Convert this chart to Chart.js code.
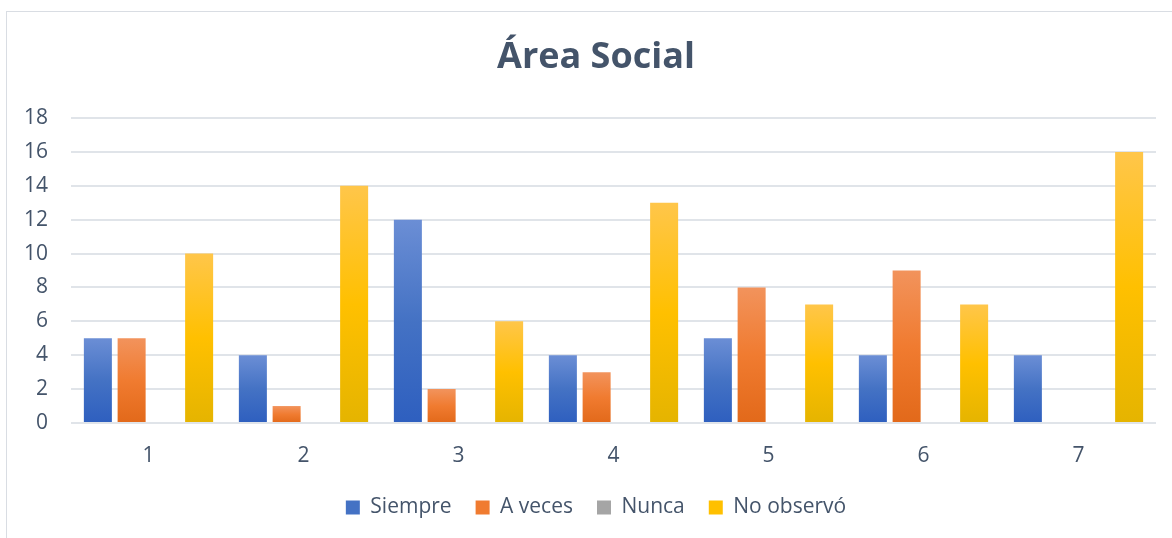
<!DOCTYPE html>
<html>
<head>
<meta charset="utf-8">
<script src="https://cdn.jsdelivr.net/npm/chart.js@4"></script>
<style>
  html, body { margin: 0; padding: 0; background: #fff; overflow: hidden; }
  #wrap { position: relative; width: 1172px; height: 538px; overflow: hidden; }
  #frame { position: absolute; left: 6px; top: 11px; width: 1300px; height: 700px; border: 1px solid #d9dde3; box-sizing: border-box; }
  canvas { position: absolute; left: 0; top: 0; }
</style>
</head>
<body>
<div id="wrap">
  <div id="frame"></div>
  <canvas id="chart" width="1192" height="538"></canvas>
</div>
<script>
// ===== Data =====
const categories = ["1", "2", "3", "4", "5", "6", "7"];
const siempre = [5, 4, 12, 4, 5, 4, 4];
const aVeces = [5, 1, 2, 3, 8, 9, 0];
const nunca = [0, 0, 0, 0, 0, 0, 0];
const noObservo = [10, 14, 6, 13, 7, 7, 16];
const seriesNames = ["Siempre", "A veces", "Nunca", "No observó"];
const chartTitle = "Área Social";

const textColor = "#44546A";

// top / middle / bottom colours of each bar gradient
const blueStops = ["#6b8ed5", "#4472c4", "#2e5fbf"];
const orangeStops = ["#f2935c", "#f07b30", "#e2691a"];
const grayStops = ["#b5b5b5", "#a5a5a5", "#8f8f8f"];
const yellowStops = ["#ffc64a", "#ffc000", "#e5b400"];

// per-bar vertical gradient, lighter at the top
function barGradient(stops) {
  return (c) => {
    const chart = c.chart;
    if (!chart.chartArea || c.type !== "data") return stops[1];
    const y = chart.scales.y;
    const top = y.getPixelForValue(c.raw);
    const bottom = y.getPixelForValue(0);
    if (bottom - top < 1) return stops[1];
    const g = chart.ctx.createLinearGradient(0, top, 0, bottom);
    g.addColorStop(0, stops[0]);
    g.addColorStop(0.5, stops[1]);
    g.addColorStop(1, stops[2]);
    return g;
  };
}

const allStops = [blueStops, orangeStops, grayStops, yellowStops];
const allData = [siempre, aVeces, nunca, noObservo];

// title drawn by hand so it sits over the whole (partly cropped) chart frame
const titlePlugin = {
  id: "areaTitle",
  afterDraw(chart) {
    const ctx = chart.ctx;
    ctx.save();
    ctx.font = "bold 36px 'Open Sans'";
    ctx.fillStyle = textColor;
    ctx.textAlign = "center";
    ctx.textBaseline = "middle";
    ctx.fillText(chartTitle, chart.width / 2, 58);
    ctx.restore();
  }
};

const chart = new Chart(document.getElementById("chart"), {
  type: "bar",
  data: {
    labels: categories,
    datasets: allData.map((d, i) => ({
      label: seriesNames[i],
      data: d,
      backgroundColor: barGradient(allStops[i]),
      borderWidth: 0,
      categoryPercentage: 0.871,
      barPercentage: 0.83
    }))
  },
  options: {
    responsive: false,
    animation: false,
    layout: { padding: { left: 0, right: 0, top: 118, bottom: 10 } },
    scales: {
      x: {
        grid: { display: false, drawTicks: false },
        border: { display: false },
        ticks: { color: textColor, font: { family: "Open Sans", size: 21 }, padding: 20 },
        afterFit: (scale) => { scale.height = 50; }
      },
      y: {
        min: 0,
        max: 18,
        ticks: { stepSize: 2, color: textColor, font: { family: "Open Sans", size: 21 }, padding: 23 },
        grid: { color: "#e0e4e9", lineWidth: 2, drawTicks: false },
        border: { display: false },
        afterFit: (scale) => { scale.width = 71; }
      },
      // empty right-hand axis: keeps space between plot and frame edge
      yRight: {
        position: "right",
        grid: { display: false },
        border: { display: false },
        ticks: { display: false },
        afterFit: (scale) => { scale.width = 36; }
      }
    },
    plugins: {
      title: { display: false },
      legend: {
        position: "bottom",
        labels: {
          color: textColor,
          font: { family: "Open Sans", size: 21 },
          boxWidth: 14,
          boxHeight: 14,
          padding: 24,
          generateLabels: (ch) => ch.data.datasets.map((ds, i) => ({
            text: ds.label,
            fillStyle: allStops[i][1],
            strokeStyle: allStops[i][1],
            lineWidth: 0,
            fontColor: textColor,
            datasetIndex: i
          }))
        }
      },
      tooltip: { enabled: false }
    }
  },
  plugins: [titlePlugin]
});
</script>
</body>
</html>
